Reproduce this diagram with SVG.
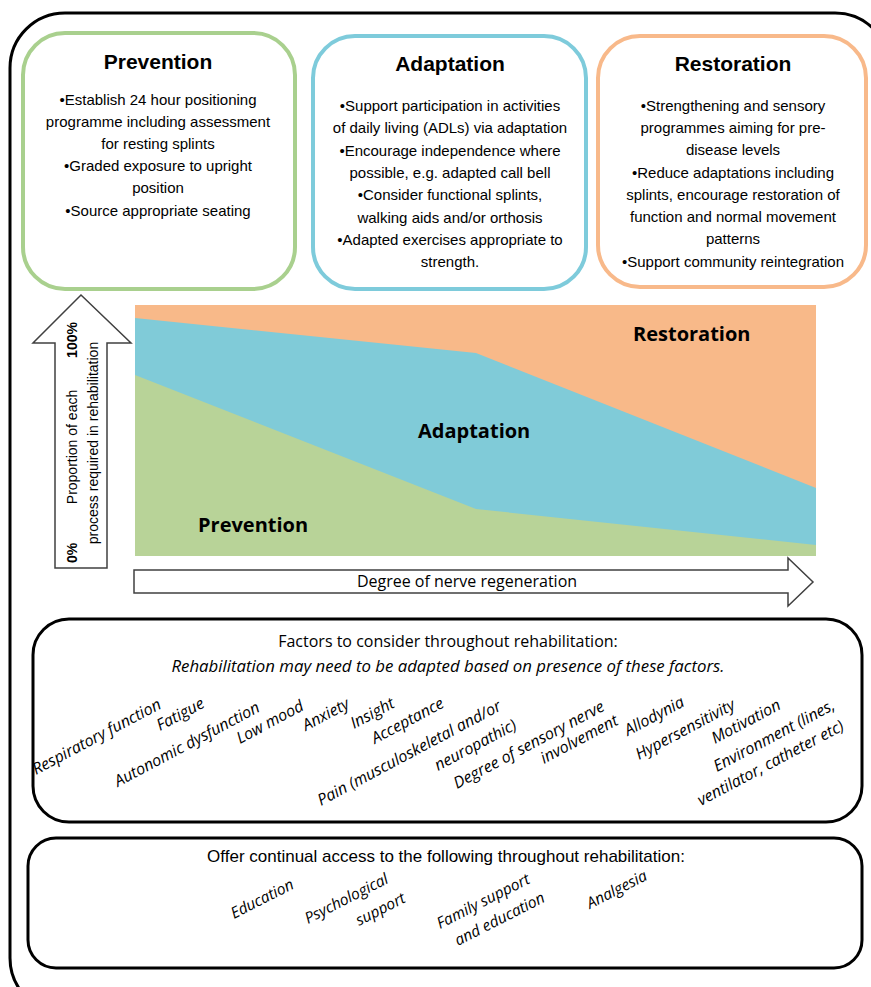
<svg xmlns="http://www.w3.org/2000/svg" width="871" height="987" viewBox="0 0 871 987">
<style>
.frame{fill:none;stroke:#000;stroke-width:3}
.title{font-family:"Liberation Sans",Arial,sans-serif;font-weight:bold;font-size:21px;fill:#000;text-anchor:middle}
.body{font-family:"Liberation Sans",Arial,sans-serif;font-size:15px;fill:#000;text-anchor:middle}
.chartlbl{font-family:"Open Sans",sans-serif;font-weight:bold;font-size:20px;fill:#000}
.arrow{fill:#fff;stroke:#404040;stroke-width:1.5}
.axis{font-family:"Liberation Sans",Arial,sans-serif;font-size:14px;fill:#000;text-anchor:middle}
.hdr{font-family:"Open Sans",sans-serif;font-size:16px;fill:#000;text-anchor:middle}
.fac{font-family:"Open Sans",sans-serif;font-style:italic;font-size:16px;fill:#000}
.acc{font-family:"Open Sans",sans-serif;font-style:italic;font-size:15.5px;fill:#000}
</style>

<rect id="outer" x="10" y="13" width="880" height="1000" rx="55" class="frame"/>

<g id="prevention-box">
<rect x="23" y="33" width="272" height="256" rx="42" fill="#fff" stroke="#A9D08E" stroke-width="4"/>
<text class="title" x="158" y="69">Prevention</text>
<text class="body" x="158" y="105">•Establish 24 hour positioning</text>
<text class="body" x="158" y="127">programme including assessment</text>
<text class="body" x="158" y="149">for resting splints</text>
<text class="body" x="158" y="171">•Graded exposure to upright</text>
<text class="body" x="158" y="193">position</text>
<text class="body" x="158" y="216">•Source appropriate seating</text>
</g>

<g id="adaptation-box">
<rect x="313" y="36" width="273" height="253" rx="42" fill="#fff" stroke="#7ECBDB" stroke-width="4"/>
<text class="title" x="450" y="71">Adaptation</text>
<text class="body" x="450" y="111">•Support participation in activities</text>
<text class="body" x="450" y="133">of daily living (ADLs) via adaptation</text>
<text class="body" x="450" y="156">•Encourage independence where</text>
<text class="body" x="450" y="178">possible, e.g. adapted call bell</text>
<text class="body" x="450" y="200">•Consider functional splints,</text>
<text class="body" x="450" y="223">walking aids and/or orthosis</text>
<text class="body" x="450" y="245">•Adapted exercises appropriate to</text>
<text class="body" x="450" y="267">strength.</text>
</g>

<g id="restoration-box">
<rect x="598" y="36" width="268" height="251" rx="42" fill="#fff" stroke="#F8B98A" stroke-width="4"/>
<text class="title" x="733" y="71">Restoration</text>
<text class="body" x="733" y="111">•Strengthening and sensory</text>
<text class="body" x="733" y="133">programmes aiming for pre-</text>
<text class="body" x="733" y="155">disease levels</text>
<text class="body" x="733" y="178">•Reduce adaptations including</text>
<text class="body" x="733" y="200">splints, encourage restoration of</text>
<text class="body" x="733" y="222">function and normal movement</text>
<text class="body" x="733" y="244">patterns</text>
<text class="body" x="733" y="267">•Support community reintegration</text>
</g>

<g id="chart">
<rect x="135" y="305" width="681" height="251" fill="#F8B989"/>
<polygon points="135,318 476,353 816,488 816,556 135,556" fill="#80CBD8"/>
<polygon points="135,375 476,509 816,545 816,556 135,556" fill="#B8D398"/>
<text class="chartlbl" x="633" y="341">Restoration</text>
<text class="chartlbl" x="418" y="438">Adaptation</text>
<text class="chartlbl" x="198" y="532">Prevention</text>
</g>

<g id="y-axis-arrow">
<polygon class="arrow" points="55,568 55,343 33,343 81,295 131,343 107,343 107,568"/>
<text class="axis" font-weight="bold" transform="translate(77,340) rotate(-90)">100%</text>
<text class="axis" font-weight="bold" transform="translate(77,553) rotate(-90)">0%</text>
<text class="axis" transform="translate(77,447) rotate(-90)">Proportion of each</text>
<text class="axis" transform="translate(98,443) rotate(-90)">process required in rehabilitation</text>
</g>

<g id="x-axis-arrow">
<polygon class="arrow" points="134,570 788,570 788,558 813,582 788,606 788,593 134,593"/>
<text class="hdr" x="467" y="587">Degree of nerve regeneration</text>
</g>

<g id="factors-box">
<rect x="33" y="619" width="829" height="203" rx="36" class="frame"/>
<text class="hdr" x="448" y="647">Factors to consider throughout rehabilitation:</text>
<text class="hdr" style="font-style:italic;font-size:16.8px" x="448" y="672">Rehabilitation may need to be adapted based on presence of these factors.</text>
<text class="fac" transform="translate(36,775) rotate(-28)">Respiratory function</text>
<text class="fac" transform="translate(160,731) rotate(-28)">Fatigue</text>
<text class="fac" transform="translate(118,787) rotate(-28)">Autonomic dysfunction</text>
<text class="fac" transform="translate(240,744) rotate(-28)">Low mood</text>
<text class="fac" transform="translate(306,731) rotate(-28)">Anxiety</text>
<text class="fac" transform="translate(354,729) rotate(-28)">Insight</text>
<text class="fac" transform="translate(375,744) rotate(-28)">Acceptance</text>
<text class="fac" transform="translate(321,806) rotate(-28)">Pain (musculoskeletal and/or</text>
<text class="fac" transform="translate(438,771) rotate(-28)">neuropathic)</text>
<text class="fac" transform="translate(457,789) rotate(-28)">Degree of sensory nerve</text>
<text class="fac" transform="translate(544,764) rotate(-28)">involvement</text>
<text class="fac" transform="translate(628,736) rotate(-28)">Allodynia</text>
<text class="fac" transform="translate(639,760) rotate(-28)">Hypersensitivity</text>
<text class="fac" transform="translate(715,744) rotate(-28)">Motivation</text>
<text class="fac" transform="translate(717,772) rotate(-28)">Environment (lines,</text>
<text class="fac" transform="translate(701,806) rotate(-28)">ventilator, catheter etc)</text>
</g>

<g id="access-box">
<rect x="28" y="838" width="834" height="130" rx="28" class="frame"/>
<text class="body" style="font-size:17px" x="446" y="862">Offer continual access to the following throughout rehabilitation:</text>
<text class="acc" transform="translate(234,919) rotate(-27)">Education</text>
<text class="acc" transform="translate(308,924) rotate(-27)">Psychological</text>
<text class="acc" transform="translate(359,926) rotate(-27)">support</text>
<text class="acc" transform="translate(440,929) rotate(-27)">Family support</text>
<text class="acc" transform="translate(458,946) rotate(-27)">and education</text>
<text class="acc" transform="translate(590,909) rotate(-27)">Analgesia</text>
</g>
</svg>
